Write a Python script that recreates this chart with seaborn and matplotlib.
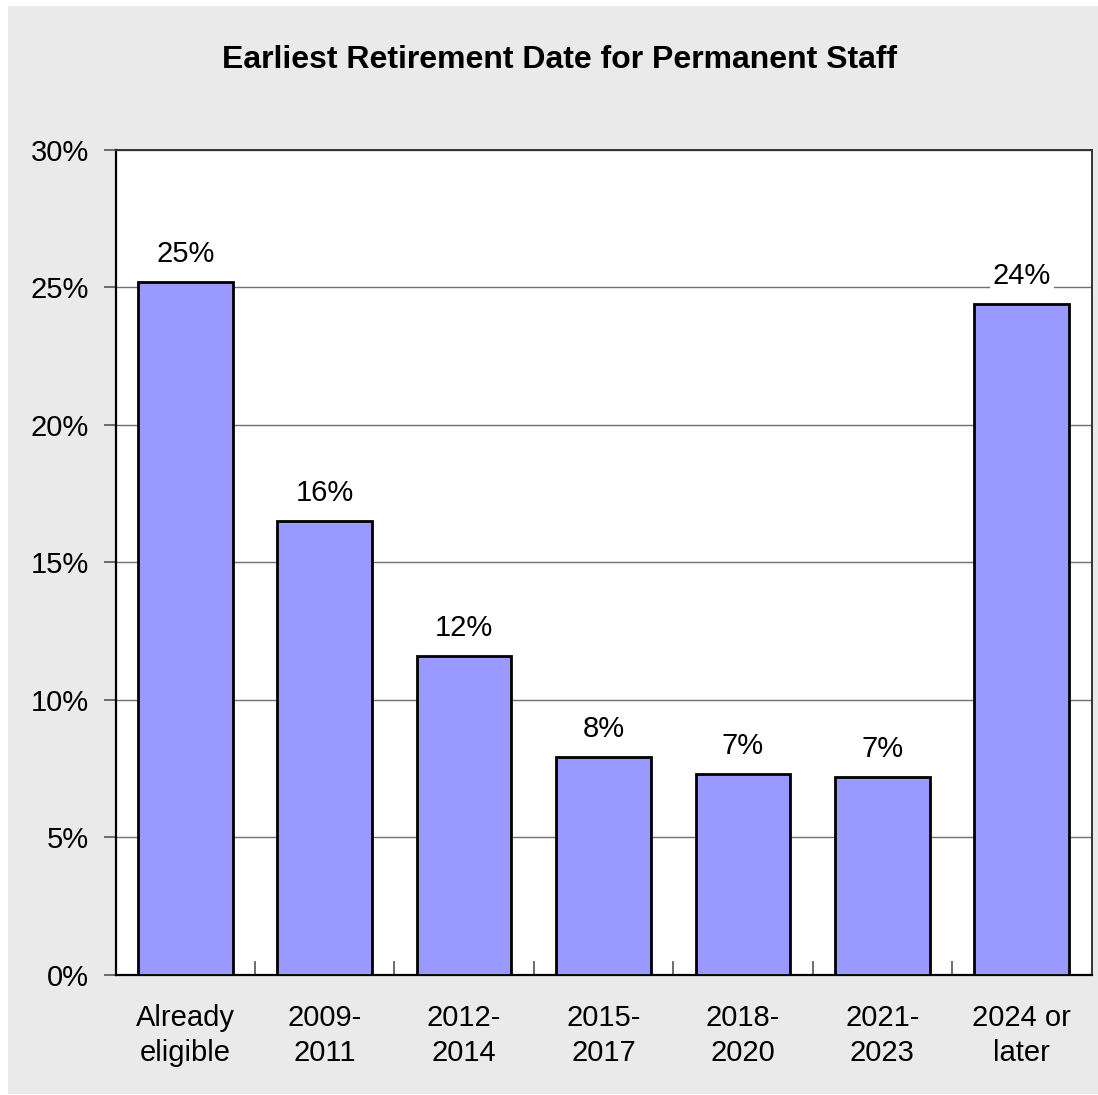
import matplotlib
matplotlib.use("Agg")
import matplotlib.pyplot as plt
from matplotlib.patches import Rectangle
import seaborn as sns
import pandas as pd

# Share of permanent staff by earliest possible retirement date
categories = ["Already\neligible", "2009-\n2011", "2012-\n2014", "2015-\n2017",
              "2018-\n2020", "2021-\n2023", "2024 or\nlater"]
shares = [25.2, 16.5, 11.6, 7.9, 7.3, 7.2, 24.4]
y_ticks = [0, 5, 10, 15, 20, 25, 30]
title = "Earliest Retirement Date for Permanent Staff"

sns.set_theme(style="white")
plt.rcParams["font.family"] = ["Liberation Sans", "DejaVu Sans"]
plt.rcParams["text.color"] = "black"
plt.rcParams["xtick.color"] = "black"
plt.rcParams["ytick.color"] = "black"

W, H, DPI = 1098, 1095, 100
fig = plt.figure(figsize=(W / DPI, H / DPI), dpi=DPI, facecolor="white")

# light grey chart panel behind everything
fig.patches.append(Rectangle((8 / W, 1 / H), 1 - 8 / W, 1 - 7 / H,
                             transform=fig.transFigure, facecolor="#EAEAEA",
                             edgecolor="none", zorder=-10))

left, right, top, bottom = 115.5, 1091.5, 150, 974.5
ax = fig.add_axes([left / W, 1 - bottom / H, (right - left) / W, (bottom - top) / H])
ax.set_facecolor("white")

df = pd.DataFrame({"category": categories, "share": shares})
sns.barplot(data=df, x="category", y="share", ax=ax, color="#9999FF",
            saturation=1, width=0.68, edgecolor="black", linewidth=2, zorder=3)

ax.set_ylim(0, 30)
ax.set_xlim(-0.5, len(categories) - 0.5)
ax.set_yticks(y_ticks)
ax.set_yticklabels([f"{t}%" for t in y_ticks], fontsize=21)
ax.yaxis.grid(True, color="#707070", linewidth=1.0, zorder=0)
ax.set_axisbelow(True)

# category boundary ticks pointing inward along the bottom
ax.set_xticks([i + 0.5 for i in range(len(categories) - 1)])
ax.set_xticks(range(len(categories)), minor=True)
ax.set_xticklabels([])
ax.set_xticklabels(categories, minor=True, fontsize=21, linespacing=1.32)
ax.tick_params(axis="x", which="major", direction="in", length=10,
               width=1.2, color="#555555", bottom=True)
ax.tick_params(axis="x", which="minor", length=0, pad=21)
ax.tick_params(axis="y", direction="out", length=9, width=1.2,
               color="#555555", left=True, pad=10)
ax.set_xlabel("")
ax.set_ylabel("")

for side in ["left", "bottom"]:
    ax.spines[side].set_color("black")
    ax.spines[side].set_linewidth(1.6)
for side in ["top", "right"]:
    ax.spines[side].set_color("#333333")
    ax.spines[side].set_linewidth(1.4)

for i, v in enumerate(shares):
    ax.annotate(f"{v:.0f}%", xy=(i, v), xytext=(0, 10), textcoords="offset points",
                ha="center", va="bottom", fontsize=21, zorder=4,
                bbox=dict(boxstyle="square,pad=0.1", facecolor="white",
                          edgecolor="none"))

fig.text(560 / W, 1 - 60 / H, title, ha="center", va="center",
         fontsize=23, fontweight="bold", color="black")

fig.savefig("out.png", dpi=DPI, facecolor=fig.get_facecolor())
